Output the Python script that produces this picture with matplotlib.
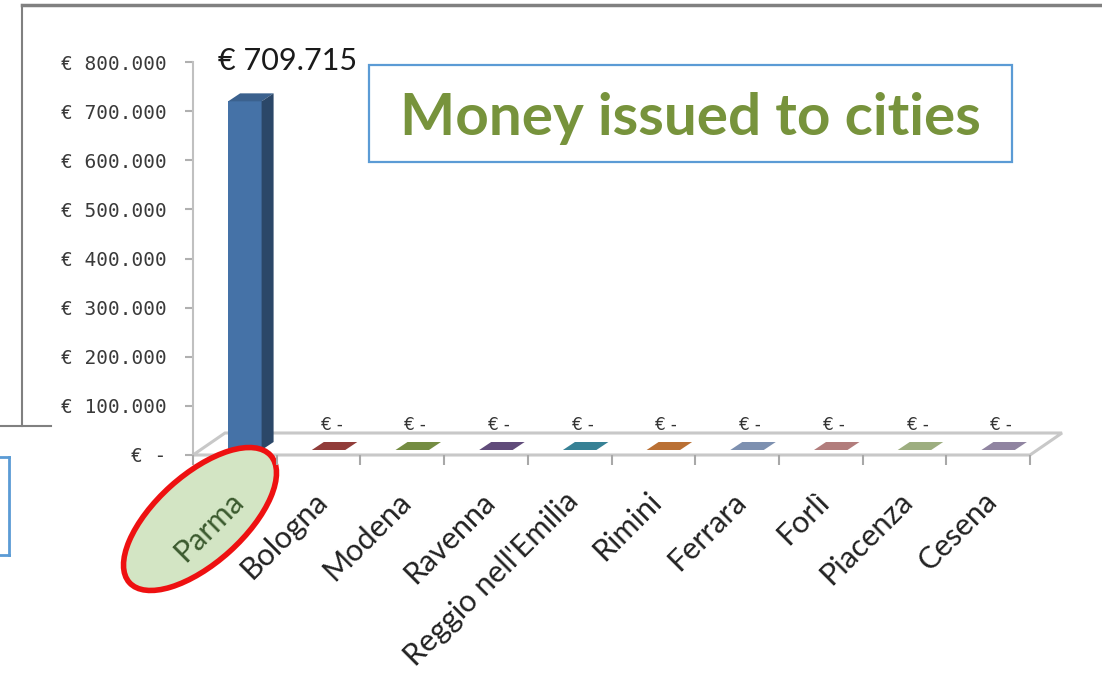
import matplotlib
matplotlib.use("Agg")
import matplotlib.pyplot as plt
import numpy as np
from matplotlib.colors import to_rgb
from matplotlib.lines import Line2D
from matplotlib.patches import Ellipse, Polygon, Rectangle
from matplotlib.transforms import IdentityTransform, ScaledTranslation

CITIES = ["Parma", "Bologna", "Modena", "Ravenna", "Reggio nell'Emilia",
          "Rimini", "Ferrara", "Forlì", "Piacenza", "Cesena"]
AMOUNTS = [709715, 0, 0, 0, 0, 0, 0, 0, 0, 0]
BAR_COLORS = ["#4572a7", "#aa4643", "#89a54e", "#71588f", "#4198af",
              "#db843d", "#93a9cf", "#d19392", "#b9cd96", "#a99bbd"]
Y_TICKS = [0, 100000, 200000, 300000, 400000, 500000, 600000, 700000, 800000]
TITLE = "Money issued to cities"

W, H, DPI = 1102, 697, 100


def euro(v):
    if v == 0:
        return "€ -"
    return "€ " + f"{v:,.0f}".replace(",", ".")


def shade(color, f):
    return tuple(np.array(to_rgb(color)) * f)


def fig_xy(x, y):
    # screen pixel (top-left origin) -> figure fraction
    return (x / W, 1 - y / H)


fig = plt.figure(figsize=(W / DPI, H / DPI), dpi=DPI)
left, right, top, bottom = 193, 1030, 62, 455
ax = fig.add_axes([left / W, 1 - bottom / H, (right - left) / W, (bottom - top) / H])
n = len(CITIES)
ax.set_xlim(-0.5, n - 0.5)
ax.set_ylim(0, 800000)


def shifted(points, dx, dy):
    disp = ax.transData.transform(np.asarray(points, float)) + [dx, dy]
    return ax.transData.inverted().transform(disp)


# floor of the 3d plot
floor_front = [(-0.5, 0), (n - 0.5, 0)]
floor = np.vstack([floor_front, shifted(floor_front[::-1], 32, 22)])
ax.add_patch(Polygon(floor, closed=True, facecolor="white", edgecolor="#c8c8c8",
                     lw=2.2, zorder=0.5, clip_on=False))

# bars: front face through ax.bar, top and side faces as polygons
bw = 0.4
FRONT = (10, 5)
BACK = (22, 13)
xs = np.arange(n)
front_tr = ax.transData + ScaledTranslation(FRONT[0] / DPI, FRONT[1] / DPI, fig.dpi_scale_trans)
ax.bar(xs, AMOUNTS, bw, color=BAR_COLORS, transform=front_tr, zorder=2, lw=0, clip_on=False)
for x, v, c in zip(xs, AMOUNTS, BAR_COLORS):
    l, r = x - bw / 2, x + bw / 2
    topface = np.vstack([shifted([(l, v), (r, v)], *FRONT), shifted([(r, v), (l, v)], *BACK)])
    ax.add_patch(Polygon(topface, closed=True, fc=shade(c, 0.85), ec="none",
                         zorder=2, clip_on=False))
    if v > 0:
        side = np.vstack([shifted([(r, 0), (r, v)], *FRONT), shifted([(r, v), (r, 0)], *BACK)])
        ax.add_patch(Polygon(side, closed=True, fc=shade(c, 0.62), ec="none",
                             zorder=2, clip_on=False))

# value labels
for x, v in zip(xs, AMOUNTS):
    if v > 0:
        ax.annotate(euro(v), (x, v), xytext=(-17, 36), textcoords="offset pixels",
                    fontsize=22, family="Lato", ha="left", va="baseline", color="#1a1a1a")
    else:
        ax.annotate(euro(v), (x, 0), xytext=(13, 25), textcoords="offset pixels",
                    fontsize=12, family="DejaVu Sans", ha="center", va="baseline",
                    color="#333333")

# axes styling
for s in ["top", "right", "bottom"]:
    ax.spines[s].set_visible(False)
ax.spines["left"].set_color("#c0c0c0")
ax.spines["left"].set_linewidth(1.5)

ax.set_yticks(Y_TICKS)
ax.set_yticklabels([euro(v) for v in Y_TICKS], family="DejaVu Sans Mono",
                   fontsize=14, color="#3a3a3a")
ax.tick_params(axis="y", length=6, width=1.5, color="#b0b0b0", pad=13)

ax.set_xticks(xs)
ax.set_xticks(np.arange(-0.5, n), minor=True)
ax.set_xticklabels(CITIES, rotation=45, ha="right", rotation_mode="anchor",
                   family="Lato", fontsize=22, color="#222222")
ax.tick_params(axis="x", which="major", length=0, pad=23)
ax.tick_params(axis="x", which="minor", length=7.5, width=1.5, color="#a8a8a8")
label_shift = ScaledTranslation(-6 / DPI, 0, fig.dpi_scale_trans)
for lab in ax.get_xticklabels():
    lab.set_transform(lab.get_transform() + label_shift)
ax.get_xticklabels()[0].set_color("#3b5a2e")
ax.xaxis.set_zorder(3)

# highlight around Parma
cx, cy = fig_xy(200, 519)
ax.add_patch(Ellipse((cx * W, cy * H), 190, 88, angle=42, transform=IdentityTransform(),
                     fc="#d3e5c4", ec="#ee1111", lw=4, zorder=2.4, clip_on=False))

# title box
x0, y0 = fig_xy(369, 162)
fig.add_artist(Rectangle((x0, y0), 643 / W, 97 / H, transform=fig.transFigure,
                         fill=False, ec="#5b9bd5", lw=1.6))
fig.text(*fig_xy(690, 135), TITLE, ha="center", va="baseline", fontsize=42,
         fontweight="bold", family="Lato", color="#77933c")

# pieces of surrounding slide frames
for (xa, ya), (xb, yb), col, lw in [
    ((22, 5), (1102, 5), "#808080", 2.5),
    ((22, 5), (22, 426), "#808080", 1.5),
    ((0, 426), (51, 426), "#808080", 1.5),
    ((0, 457), (9, 457), "#5b9bd5", 2),
    ((9, 457), (9, 555), "#5b9bd5", 2),
    ((0, 555), (9, 555), "#5b9bd5", 2),
]:
    pa, pb = fig_xy(xa, ya), fig_xy(xb, yb)
    fig.add_artist(Line2D([pa[0], pb[0]], [pa[1], pb[1]], color=col, lw=lw,
                          transform=fig.transFigure))

fig.savefig("out.png", dpi=DPI)
